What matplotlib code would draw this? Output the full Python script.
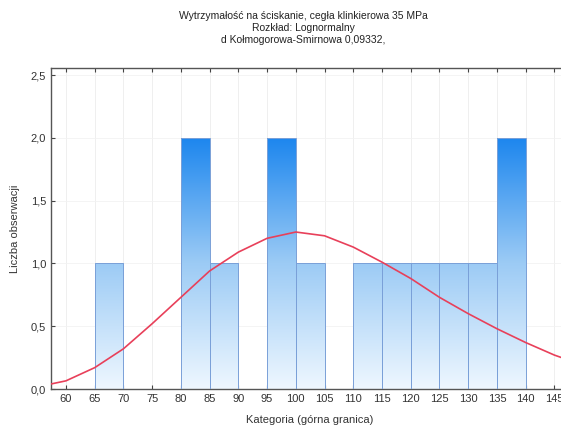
import numpy as np
import matplotlib
matplotlib.use("Agg")
import matplotlib.pyplot as plt
from matplotlib.colors import LinearSegmentedColormap
from matplotlib.patches import Rectangle

plt.rcParams["font.family"] = ["Liberation Sans", "DejaVu Sans"]

# histogram bins (upper bound) and counts
bin_left = [65, 80, 85, 95, 100, 110, 115, 120, 125, 130, 135]
bin_width = 5
counts = [1, 2, 1, 2, 1, 1, 1, 1, 1, 1, 2]

# fitted lognormal curve
curve_x = [57.4, 60, 65, 70, 75, 80, 85, 90, 95, 100, 105, 110, 115, 120,
           125, 130, 135, 140, 145, 147.5]
curve_y = [0.04, 0.065, 0.17, 0.32, 0.52, 0.73, 0.94, 1.09, 1.20, 1.25, 1.22,
           1.13, 1.01, 0.88, 0.73, 0.60, 0.48, 0.37, 0.27, 0.23]

x_ticks = list(range(60, 150, 5))
y_ticks = [0.0, 0.5, 1.0, 1.5, 2.0, 2.5]
y_tick_labels = ["0,0", "0,5", "1,0", "1,5", "2,0", "2,5"]

title = ("Wytrzymałość na ściskanie, cegła klinkierowa 35 MPa\n"
         "Rozkład: Lognormalny\n"
         "d Kołmogorowa-Smirnowa 0,09332,")

fig = plt.figure(figsize=(5.61, 4.28), dpi=100)
ax = fig.add_axes([0.0909, 0.0911, 0.923, 0.75])
ax.set_xlim(57.4, 147.5)
ax.set_ylim(0, 2.556)

# faint grid
for xt in x_ticks:
    ax.axvline(xt, color="#ececec", lw=0.6, zorder=0)
for yt in y_ticks[1:]:
    ax.axhline(yt, color="#f2f2f2", lw=0.6, zorder=0)

cmap = LinearSegmentedColormap.from_list("bars", ["#eef7ff", "#9ccbf5", "#1c86ee"])
grad = np.linspace(0, 1, 256).reshape(-1, 1)

for x0, c in zip(bin_left, counts):
    rect = Rectangle((x0, 0), bin_width, c, facecolor="none",
                     edgecolor="#7aa0d8", lw=0.7, zorder=3)
    ax.add_patch(rect)
    im = ax.imshow(grad, extent=[x0, x0 + bin_width, 0, 2], origin="lower",
                   cmap=cmap, aspect="auto", zorder=2)
    im.set_clip_path(rect)

ax.plot(curve_x, curve_y, color="#e8405a", lw=1.2, zorder=4)

ax.set_xticks(x_ticks)
ax.set_xticklabels([str(t) for t in x_ticks])
ax.set_yticks(y_ticks)
ax.set_yticklabels(y_tick_labels)
ax.tick_params(direction="in", length=3, width=0.8, color="#444444",
               labelsize=8, labelcolor="#333333", top=True, right=True)
ax.set_xlim(57.4, 147.5)
ax.set_ylim(0, 2.556)

for s in ax.spines.values():
    s.set_color("#555555")
    s.set_linewidth(1.0)

ax.set_xlabel("Kategoria (górna granica)", fontsize=8, color="#333333", labelpad=8)
ax.set_ylabel("Liczba obserwacji", fontsize=8, color="#333333", labelpad=8)

fig.text(0.54, 0.975, title, ha="center", va="top", fontsize=7.5,
         color="#222222", linespacing=1.25)

fig.savefig("out.png", dpi=100)
